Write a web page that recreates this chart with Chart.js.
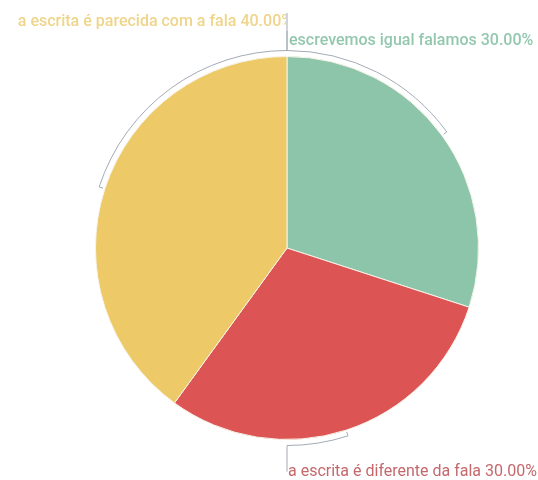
<!DOCTYPE html>
<html>
<head>
<meta charset="utf-8">
<script src="https://cdn.jsdelivr.net/npm/chart.js@4/dist/chart.umd.min.js"></script>
<style>
html,body{margin:0;padding:0;background:#fff;}
#wrap{width:538px;height:480px;position:relative;}
</style>
</head>
<body>
<div id="wrap"><canvas id="c" width="538" height="480"></canvas></div>
<script>
const categories = ["escrevemos igual falamos", "a escrita é diferente da fala", "a escrita é parecida com a fala"];
const values = [30, 30, 40];
const sliceColors = ["#8CC5A9", "#DD5454", "#EDC967"];
const labelColors = ["#93C8AE", "#C4686D", "#EFD58A"];
const labelWeights = ["500", "400", "500"];

const connectorPlugin = {
  id: 'connectors',
  afterDatasetsDraw(chart) {
    const ctx = chart.ctx;
    const meta = chart.getDatasetMeta(0);
    const total = values.reduce((a, b) => a + b, 0);
    meta.data.forEach((arc, i) => {
      const p = arc.getProps(['x', 'y', 'startAngle', 'endAngle', 'outerRadius'], true);
      const mid = (p.startAngle + p.endAngle) / 2;
      const R = p.outerRadius + 6;
      const fromTop = mid + Math.PI / 2;
      const norm = ((fromTop % (2 * Math.PI)) + 2 * Math.PI) % (2 * Math.PI);
      const goesTop = Math.cos(norm) > 0;
      let endA, anticlockwise;
      if (goesTop) {
        if (norm > Math.PI) { anticlockwise = false; endA = 3 * Math.PI / 2; }
        else { anticlockwise = true; endA = -Math.PI / 2; }
      } else {
        anticlockwise = norm > Math.PI;
        endA = Math.PI / 2;
      }
      ctx.save();
      ctx.strokeStyle = '#a3abb5';
      ctx.lineWidth = 1;
      ctx.beginPath();
      ctx.moveTo(p.x + Math.cos(mid) * (p.outerRadius + 2), p.y + Math.sin(mid) * (p.outerRadius + 2));
      ctx.lineTo(p.x + Math.cos(mid) * R, p.y + Math.sin(mid) * R);
      ctx.arc(p.x, p.y, R, mid, endA, anticlockwise);
      const ex = p.x;
      const ey = goesTop ? p.y - R : p.y + R;
      const ly = goesTop ? (i === 0 ? 31 : 13) : ey + 26;
      ctx.lineTo(ex, ly);
      ctx.stroke();
      ctx.restore();

      const pct = (values[i] / total * 100).toFixed(2) + '%';
      const text = categories[i] + ' ' + pct;
      ctx.save();
      ctx.font = labelWeights[i] + ' 16px Roboto';
      ctx.fillStyle = labelColors[i];
      ctx.textBaseline = 'middle';
      if (goesTop && norm > Math.PI) {
        ctx.beginPath();
        ctx.rect(0, 0, ex - 1, 480);
        ctx.clip();
        ctx.textAlign = 'right';
        ctx.fillText(text, ex + 6, 22);
      } else if (goesTop) {
        ctx.textAlign = 'left';
        ctx.fillText(text, ex + 2, 41);
      } else {
        ctx.textAlign = 'left';
        ctx.fillText(text, ex + 1, 472);
      }
      ctx.restore();
    });
  }
};

new Chart(document.getElementById('c'), {
  type: 'pie',
  data: {
    labels: categories,
    datasets: [{
      data: values,
      backgroundColor: sliceColors,
      borderColor: '#f7f3e8',
      borderWidth: 1
    }]
  },
  options: {
    responsive: false,
    animation: false,
    layout: { padding: { left: 95, right: 59, top: 56, bottom: 40 } },
    plugins: { legend: { display: false }, tooltip: { enabled: false } }
  },
  plugins: [connectorPlugin]
});
</script>
</body>
</html>
